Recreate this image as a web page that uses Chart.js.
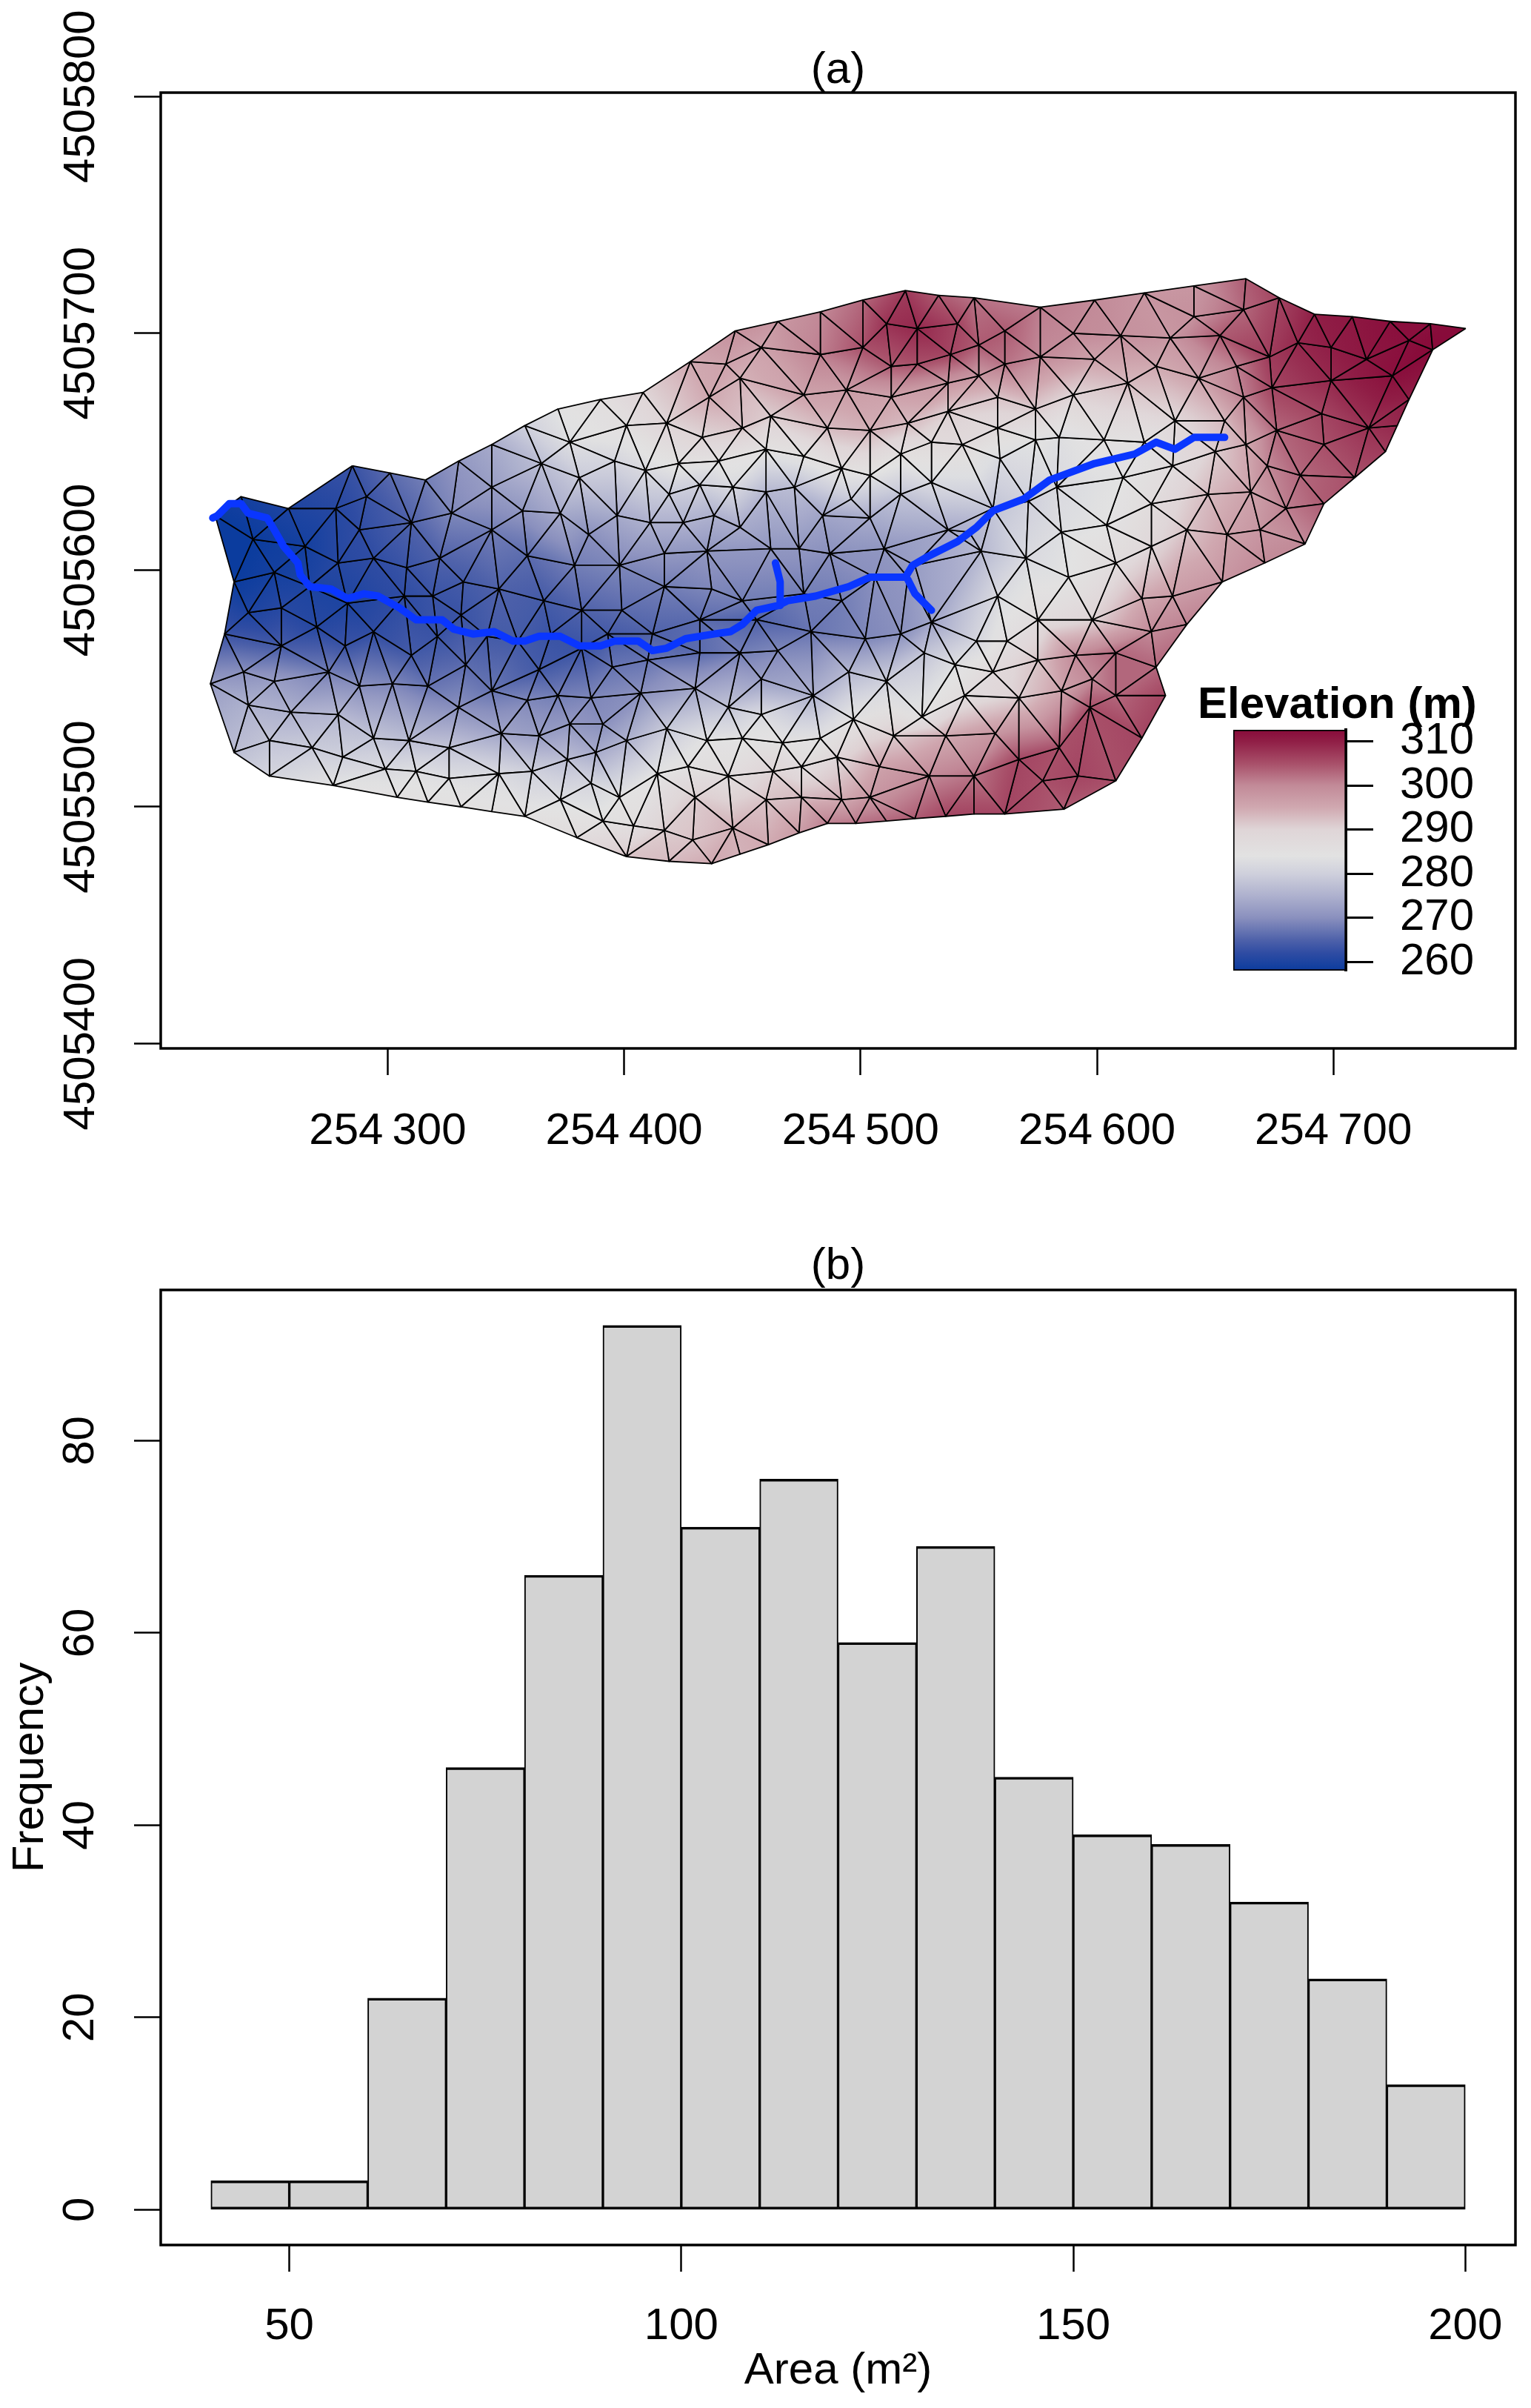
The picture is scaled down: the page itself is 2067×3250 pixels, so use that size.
<!DOCTYPE html>
<html>
<head>
<meta charset="utf-8">
<title>Catchment mesh</title>
<script src="https://cdn.jsdelivr.net/npm/chart.js@4/dist/chart.umd.js"></script>
<style>
  html, body { margin: 0; padding: 0; background: #fff; }
  #page { position: relative; width: 2067px; height: 3250px; overflow: hidden; }
  canvas { position: absolute; }
</style>
</head>
<body>
<div id="page">
  <canvas id="meshChart" width="2067" height="1600" style="left:0;top:0"></canvas>
  <canvas id="barChart" width="418" height="430" style="left:1600px;top:900px"></canvas>
  <canvas id="histChart" width="2067" height="1650" style="left:0;top:1600px"></canvas>
</div>
<script>
// mesh vertices, the first ringCount run round the catchment outline
const ringCount = 70;
const meshX = [
  254227,254238,254258,254285,254316,254330,254344,254358,254372,254390,
  254408,254428,254447,254465,254483,254501,254519,254533,254548,254576,
  254599,254620,254641,254663,254677,254692,254708,254724,254741,254756,
  254742,254732,254727,254722,254709,254696,254688,254671,254653,254638,
  254625,254629,254619,254608,254586,254561,254548,254536,254523,254511,
  254498,254486,254474,254461,254449,254437,254419,254401,254380,254358,
  254344,254331,254317,254304,254277,254250,254235,254225,254231,254235,
  254243,254252,254241,254255,254265,254278,254288,254279,254291,254301,
  254310,254294,254308,254322,254327,254344,254344,254357,254365,254377,
  254381,254373,254359,254347,254332,254319,254307,254331,254267,254283,
  254294,254270,254282,254255,254239,254321,254310,254333,254342,254366,
  254382,254369,254355,254382,254364,254344,254330,254317,254302,254288,
  254275,254252,254259,254241,254279,254294,254309,254326,254348,254364,
  254377,254372,254359,254386,254395,254391,254407,254401,254388,254376,
  254361,254347,254326,254312,254299,254281,254268,254250,254386,254373,
  254398,254414,254418,254430,254410,254432,254393,254399,254412,254391,
  254404,254417,254429,254430,254427,254444,254446,254435,254444,
  254379,254398,254417,254435,254385,254397,254411,254425,254438,254409,
  254396,254423,254440,254419,254432,254446,254401,254418,254433,254436,
  254443,254417,254437,254432,254450,254450,254450,
  254511,254524,254541,254501,254483,254458,254561,254550,254538,254524,
  254513,254590,254610,254631,254652,254641,254662,254576,254599,254561,
  254494,254476,254513,254537,254550,254558,254574,254590,254613,254625,
  254643,254659,254673,254685,254699,254714,254732,254725,254699,254674,
  254662,254462,254449,254486,254504,254520,254537,254558,254574,254584,
  254603,254620,254633,254654,254676,254695,254715,254696,254686,254672,
  254663,254650,254632,254460,254476,254492,254517,254530,254543,254559,
  254583,254611,254604,254623,254647,254665,254680,254669,254655,254638,
  254623,254608,254588,254570,254585,254571,254556,254546,254537,254530,
  254504,254460,254472,254484,254496,254504,254517,254449,254462,254474,
  254487,254510,254523,254551,254558,254575,254598,254619,254632,254623,
  254608,254591,254575,254562,254549,254540,254556,254527,254530,254517,
  254502,254479,254465,254456,254492,254476,254506,254520,254458,254449,
  254480,254495,254511,254526,254544,254567,254585,254598,254608,254597,
  254584,254567,254557,254536,254514,254497,254483,254467,254458,254475,
  254490,254463,254508,254529,254548,254577,254592,254475,254460,254492,
  254504
];
const meshY = [
  4505623,4505631,4505626,4505644,4505638,4505646,4505653,4505661,4505668,4505672,
  4505675,4505688,4505701,4505705,4505709,4505714,4505718,4505716,4505715,4505711,
  4505714,4505717,4505720,4505723,4505715,4505708,4505707,4505705,4505704,4505702,
  4505693,4505672,4505661,4505650,4505639,4505628,4505611,4505603,4505595,4505577,
  4505559,4505547,4505529,4505511,4505499,4505497,4505497,4505496,4505495,4505494,
  4505493,4505493,4505489,4505484,4505480,4505476,4505477,4505479,4505487,4505496,
  4505498,4505500,4505502,4505504,4505509,4505513,4505523,4505552,4505573,4505595,
  4505613,4505599,4505582,4505584,4505610,4505626,4505617,4505603,4505631,4505641,
  4505620,4505605,4505601,4505605,4505624,4505635,4505617,4505625,4505645,4505654,
  4505639,4505624,4505606,4505592,4505595,4505589,4505589,4505581,4505593,4505586,
  4505574,4505576,4505568,4505568,4505557,4505572,4505564,4505560,4505572,4505587,
  4505583,4505573,4505570,4505567,4505558,4505549,4505542,4505551,4505552,4505551,
  4505557,4505553,4505540,4505543,4505539,4505529,4505528,4505525,4505531,4505530,
  4505535,4505547,4505545,4505546,4505559,4505535,4505548,4505528,4505523,4505520,
  4505515,4505514,4505512,4505515,4505516,4505521,4505525,4505528,4505510,4505503,
  4505504,4505514,4505533,4505550,4505562,4505565,4505573,4505583,4505573,4505494,
  4505492,4505490,4505486,4505504,4505517,4505513,4505491,4505528,4505542,
  4505602,4505602,4505607,4505608,4505615,4505623,4505620,4505620,4505623,4505642,
  4505646,4505645,4505646,4505632,4505636,4505635,4505661,4505662,4505656,4505673,
  4505687,4505593,4505592,4505579,4505529,4505660,4505587,
  4505704,4505702,4505704,4505694,4505691,4505694,4505701,4505695,4505691,4505687,
  4505686,4505700,4505699,4505698,4505699,4505707,4505710,4505690,4505689,4505687,
  4505676,4505674,4505673,4505679,4505682,4505673,4505668,4505674,4505679,4505686,
  4505681,4505686,4505690,4505696,4505694,4505689,4505697,4505682,4505680,4505677,
  4505673,4505665,4505681,4505660,4505659,4505662,4505667,4505660,4505655,4505656,
  4505655,4505654,4505663,4505663,4505659,4505666,4505660,4505653,4505640,4505644,
  4505653,4505650,4505644,4505651,4505648,4505643,4505649,4505654,4505653,4505647,
  4505635,4505639,4505619,4505628,4505632,4505633,4505626,4505617,4505615,4505617,
  4505610,4505603,4505597,4505605,4505616,4505629,4505626,4505616,4505617,4505637,
  4505640,4505633,4505635,4505623,4505630,4505622,4505632,4505618,4505609,4505609,
  4505607,4505609,4505602,4505608,4505589,4505579,4505579,4505588,4505589,4505574,
  4505565,4505564,4505562,4505570,4505570,4505560,4505557,4505565,4505578,4505573,
  4505571,4505574,4505566,4505579,4505587,4505590,4505597,4505597,4505554,4505565,
  4505547,4505557,4505553,4505538,4505547,4505546,4505549,4505554,4505547,4505542,
  4505525,4505520,4505531,4505530,4505530,4505537,4505529,4505527,4505539,4505517,
  4505521,4505515,4505517,4505513,4505513,4505511,4505513,4505504,4505503,4505503,
  4505504
];
const meshZ = [
  258,259,260,263,268,271,274,280,284,286,
  290,295,299,298,300,303,307,304,302,301,
  300,298,298,304,306,310,311,312,312,313,
  313,310,309,307,305,304,300,300,298,301,
  303,306,306,305,304,306,306,306,304,303,
  302,301,297,295,294,295,293,292,287,285,
  285,285,285,285,284,281,277,272,263,258,
  258,259,260,261,259,261,262,261,263,266,
  265,262,263,265,269,272,268,271,277,283,
  279,274,266,265,264,263,262,263,260,260,
  262,261,263,264,270,263,264,266,264,264,
  265,263,264,263,264,267,270,267,269,270,
  268,272,275,275,276,278,277,278,273,272,
  271,268,269,269,267,270,270,275,274,277,
  280,282,283,283,282,280,279,278,281,283,
  284,284,279,273,267,266,264,266,265,285,
  286,291,292,291,285,287,294,284,278,
  268,269,271,271,270,274,275,275,275,282,
  281,285,285,279,280,282,286,290,290,295,
  296,268,269,266,284,292,268,
  308,309,306,305,301,296,304,304,306,305,
  304,300,299,298,304,299,303,300,296,302,
  297,296,296,298,298,292,291,290,293,295,
  296,301,307,309,310,311,312,312,309,306,
  301,291,294,293,294,293,291,288,284,283,
  285,285,289,293,303,306,308,305,303,300,
  295,291,287,285,285,286,286,288,288,282,
  282,284,284,287,293,296,301,298,296,292,
  289,287,284,282,283,280,278,275,274,282,
  284,276,277,273,279,274,278,274,271,271,
  270,271,272,276,282,287,290,295,297,300,
  303,300,292,286,281,283,288,278,273,270,
  269,267,269,265,268,268,270,271,272,268,
  275,276,280,285,287,291,296,300,303,305,
  305,306,298,295,291,285,284,285,282,287,
  289,290,296,300,302,305,306,293,292,295,
  298
];

// stream network
const riverX = [254226,254228,254233,254238,254241,254249,254252,254256,254262,254263,254267,254276,254283,254290,254296,254305,254312,254323,254328,254336,254345,254353,254358,254364,254373,254381,254390,254396,254406,254412,254418,254426,254438,254445,254450,254456,254465,254469,254481,254495,254504,254519,254522,254529,254541,254549,254556,254569,254580,254599,254616,254625,254633,254641,254654];
const riverY = [4505622,4505623,4505628,4505628,4505624,4505622,4505617,4505610,4505603,4505598,4505593,4505592,4505588,4505590,4505589,4505584,4505579,4505579,4505575,4505573,4505574,4505570,4505570,4505572,4505572,4505568,4505568,4505570,4505570,4505566,4505567,4505571,4505573,4505574,4505577,4505583,4505585,4505587,4505589,4505593,4505597,4505597,4505602,4505606,4505612,4505618,4505625,4505630,4505638,4505645,4505649,4505654,4505651,4505656,4505656];
const tribAX = [254464,254466,254466];
const tribAY = [4505603,4505595,4505585];
const tribBX = [254520,254523,254530];
const tribBY = [4505596,4505590,4505583];

const eastTicks = [254300,254400,254500,254600,254700];
const northTicks = [4505400,4505500,4505600,4505700,4505800];

// elevation colour ramp
const elevTicks = [260,270,280,290,300,310];
const rampZ = [258,262,265,270,275,280,284,290,295,300,305,310,312.6];
const rampColor = ['#0b3c9e','#2f4ca3','#4f62aa','#8a90be','#aeb1ce','#cfd0dc','#e2e2e2','#dfd5d7','#d0a8b0','#c28a98','#a84f69','#901e46','#880b3a'];

// histogram of panel (b)
const areaBins = [45,55,65,75,85,95,105,115,125,135,145,155,165,175,185,195];
const areaCounts = [3,3,22,46,66,92,71,76,59,69,45,39,38,32,24,13];
const areaTicks = [50,100,150,200];
const freqTicks = [0,20,40,60,80];

const FONT = '"Liberation Sans", Arial, sans-serif';
Chart.defaults.font.family = FONT;
Chart.defaults.color = '#000';
Chart.defaults.animation = false;

function hexToRgb(h) {
  return [parseInt(h.slice(1, 3), 16), parseInt(h.slice(3, 5), 16), parseInt(h.slice(5, 7), 16)];
}

function elevColor(z) {
  let i = 0;
  while (i < rampZ.length - 2 && z > rampZ[i + 1]) i++;
  const t = Math.max(0, Math.min(1, (z - rampZ[i]) / (rampZ[i + 1] - rampZ[i])));
  const a = hexToRgb(rampColor[i]), b = hexToRgb(rampColor[i + 1]);
  return 'rgb(' + a.map((v, k) => Math.round(v + (b[k] - v) * t)).join(',') + ')';
}

// Bowyer-Watson, the picture only gives the vertices
function triangulate(xs, ys) {
  const n = xs.length;
  const x0 = Math.min(...xs), y0 = Math.min(...ys);
  const px = xs.map(v => v - x0), py = ys.map(v => v - y0);
  px.push(-5000, 6000, 500);
  py.push(-5000, -5000, 8000);
  const inCircle = (t, i) => {
    const ax = px[t[0]] - px[i], ay = py[t[0]] - py[i];
    const bx = px[t[1]] - px[i], by = py[t[1]] - py[i];
    const cx = px[t[2]] - px[i], cy = py[t[2]] - py[i];
    const det = (ax * ax + ay * ay) * (bx * cy - cx * by)
      - (bx * bx + by * by) * (ax * cy - cx * ay)
      + (cx * cx + cy * cy) * (ax * by - bx * ay);
    return det > 0;
  };
  let tris = [[n, n + 1, n + 2]];
  for (let i = 0; i < n; i++) {
    const bad = [], keep = [];
    tris.forEach(t => (inCircle(t, i) ? bad : keep).push(t));
    const edges = {};
    bad.forEach(t => {
      [[t[0], t[1]], [t[1], t[2]], [t[2], t[0]]].forEach(e => {
        const rev = e[1] + '_' + e[0];
        if (edges[rev]) delete edges[rev];
        else edges[e[0] + '_' + e[1]] = e;
      });
    });
    Object.values(edges).forEach(e => keep.push([e[0], e[1], i]));
    tris = keep;
  }
  return tris.filter(t => t.every(v => v < n));
}

function insideRing(x, y) {
  let c = false;
  for (let i = 0, j = ringCount - 1; i < ringCount; j = i++) {
    if ((meshY[i] > y) !== (meshY[j] > y) &&
        x < (meshX[j] - meshX[i]) * (y - meshY[i]) / (meshY[j] - meshY[i]) + meshX[i]) c = !c;
  }
  return c;
}

const triangles = triangulate(meshX, meshY).filter(t => {
  const cx = (meshX[t[0]] + meshX[t[1]] + meshX[t[2]]) / 3;
  const cy = (meshY[t[0]] + meshY[t[1]] + meshY[t[2]]) / 3;
  return insideRing(cx, cy);
});

// colour runs along the slope of the triangle, like the per-vertex shading of the original
function triangleFill(c, t) {
  const s = c.chart.scales;
  const flat = elevColor((meshZ[t[0]] + meshZ[t[1]] + meshZ[t[2]]) / 3);
  if (!s.x || !c.chart.chartArea) return flat;
  const p = t.map(i => [s.x.getPixelForValue(meshX[i]), s.y.getPixelForValue(meshY[i]), meshZ[i]]);
  const ux = p[1][0] - p[0][0], uy = p[1][1] - p[0][1], uz = p[1][2] - p[0][2];
  const vx = p[2][0] - p[0][0], vy = p[2][1] - p[0][1], vz = p[2][2] - p[0][2];
  const det = ux * vy - vx * uy;
  if (!det) return flat;
  const a = (uz * vy - vz * uy) / det, b = (ux * vz - vx * uz) / det;
  const len = a * a + b * b;
  if (!len) return flat;
  const low = p.reduce((m, q) => (q[2] < m[2] ? q : m));
  const zHigh = Math.max(p[0][2], p[1][2], p[2][2]);
  const d = (zHigh - low[2]) / len;
  const g = c.chart.ctx.createLinearGradient(low[0], low[1], low[0] + a * d, low[1] + b * d);
  [0, 0.25, 0.5, 0.75, 1].forEach(f => g.addColorStop(f, elevColor(low[2] + (zHigh - low[2]) * f)));
  return g;
}

const meshSets = triangles.map(t => ({
  data: [t[0], t[1], t[2], t[0]].map(i => ({ x: meshX[i], y: meshY[i] })),
  showLine: true,
  fill: 'shape',
  backgroundColor: c => triangleFill(c, t),
  borderColor: '#000',
  borderWidth: 1.8,
  borderJoinStyle: 'round',
  pointRadius: 0,
  tension: 0
}));

function riverSet(xs, ys) {
  return {
    data: xs.map((x, i) => ({ x: x, y: ys[i] })),
    showLine: true,
    fill: false,
    borderColor: '#0a36ff',
    borderWidth: 10,
    borderJoinStyle: 'round',
    borderCapStyle: 'round',
    pointRadius: 0,
    tension: 0
  };
}

// R style box round the plot region
const framePlugin = {
  id: 'frame',
  afterDraw(chart) {
    const a = chart.chartArea, ctx = chart.ctx;
    ctx.save();
    ctx.strokeStyle = '#000';
    ctx.lineWidth = 3.5;
    ctx.strokeRect(a.left, a.top, a.right - a.left, a.bottom - a.top);
    ctx.restore();
  }
};

function axisGrid() {
  return { offset: false, drawOnChartArea: false, drawTicks: true, tickLength: 36, tickWidth: 2.5, tickColor: '#000' };
}

function titleOpts(text, top, bottom) {
  return {
    display: true,
    text: text,
    fullSize: false,
    color: '#000',
    font: { size: 60, weight: 'normal', lineHeight: 1 },
    padding: { top: top, bottom: bottom }
  };
}

// fixed box sizes, and no extra room for labels hanging over the ends of the axis
function fixX(h) {
  return s => { s.height = h; s.paddingLeft = 0; s.paddingRight = 0; };
}
function fixY(w) {
  return s => { s.width = w; s.paddingTop = 0; s.paddingBottom = 0; };
}

new Chart(document.getElementById('meshChart'), {
  type: 'scatter',
  // first dataset ends up on top, so the stream goes before the mesh
  data: { datasets: [riverSet(riverX, riverY), riverSet(tribAX, tribAY), riverSet(tribBX, tribBY)].concat(meshSets) },
  plugins: [framePlugin],
  options: {
    responsive: false,
    devicePixelRatio: 1,
    events: [],
    layout: { padding: { right: 21 } },
    plugins: { legend: { display: false }, tooltip: { enabled: false }, title: titleOpts('(a)', 65, 0) },
    scales: {
      x: {
        type: 'linear', min: 254204, max: 254777,
        afterBuildTicks: s => { s.ticks = eastTicks.map(v => ({ value: v })); },
        afterFit: fixX(185),
        grid: axisGrid(),
        border: { display: false },
        ticks: {
          autoSkip: false, minRotation: 0, maxRotation: 0, padding: 46,
          font: { size: 60, lineHeight: 1 },
          callback: v => String(v).slice(0, 3) + '\u2009' + String(v).slice(3)
        }
      },
      y: {
        type: 'linear', min: 4505398, max: 4505801.6,
        afterBuildTicks: s => { s.ticks = northTicks.map(v => ({ value: v })); },
        afterFit: fixY(217),
        grid: axisGrid(),
        border: { display: false },
        ticks: {
          autoSkip: false, minRotation: 90, maxRotation: 90, crossAlign: 'center', padding: -46,
          font: { size: 60, lineHeight: 1 },
          callback: v => String(v)
        }
      }
    }
  }
});

new Chart(document.getElementById('barChart'), {
  type: 'bar',
  data: {
    labels: ['Elevation (m)'],
    datasets: [{
      xAxisID: 'x',
      yAxisID: 'y',
      data: [[258, 312.6]],
      barPercentage: 1,
      categoryPercentage: 1,
      borderColor: '#000',
      borderWidth: 2,
      borderSkipped: false,
      backgroundColor: c => {
        const y = c.chart.scales.y;
        if (!y || !c.chart.chartArea) return rampColor[0];
        const g = c.chart.ctx.createLinearGradient(0, y.getPixelForValue(258), 0, y.getPixelForValue(312.6));
        rampZ.forEach((z, i) => g.addColorStop(Math.min(1, (z - 258) / 54.6), rampColor[i]));
        return g;
      }
    }]
  },
  options: {
    responsive: false,
    devicePixelRatio: 1,
    events: [],
    layout: { padding: { left: 17, bottom: 20 } },
    plugins: {
      legend: { display: false },
      tooltip: { enabled: false },
      title: {
        display: true,
        text: 'Elevation (m)',
        align: 'start',
        color: '#000',
        font: { size: 60, weight: 'bold', lineHeight: 1 },
        padding: { top: 22, bottom: 3 }
      }
    },
    scales: {
      x: { display: false },
      // empty axis, only there to push the bar in under the title
      spacer: {
        axis: 'y', position: 'left',
        afterFit: fixY(48),
        grid: { display: false },
        border: { display: false },
        ticks: { display: false }
      },
      y: {
        position: 'right', min: 258, max: 312.6,
        afterBuildTicks: s => { s.ticks = elevTicks.map(v => ({ value: v })); },
        afterFit: fixY(201),
        grid: { drawOnChartArea: false, drawTicks: true, tickLength: 37, tickWidth: 3, tickColor: '#000' },
        border: { display: true, color: '#000', width: 4 },
        ticks: { autoSkip: false, padding: 36, font: { size: 60, lineHeight: 1 } }
      }
    }
  }
});

new Chart(document.getElementById('histChart'), {
  type: 'bar',
  data: {
    datasets: [{
      data: areaBins.map((x, i) => ({ x: x, y: areaCounts[i] })),
      barPercentage: 1,
      categoryPercentage: 1,
      backgroundColor: '#d3d3d3',
      borderColor: '#000',
      borderWidth: { top: 3.5, bottom: 3.5, left: 2, right: 2 },
      borderSkipped: false
    }]
  },
  plugins: [framePlugin],
  options: {
    responsive: false,
    devicePixelRatio: 1,
    events: [],
    layout: { padding: { right: 21 } },
    plugins: { legend: { display: false }, tooltip: { enabled: false }, title: titleOpts('(b)', 79, 2) },
    scales: {
      x: {
        type: 'linear', min: 33.6, max: 206.4, offset: false,
        afterBuildTicks: s => { s.ticks = areaTicks.map(v => ({ value: v })); },
        afterFit: fixX(220),
        grid: axisGrid(),
        border: { display: false },
        title: { display: true, text: 'Area (m\u00b2)', font: { size: 60, lineHeight: 1 }, padding: { top: 8, bottom: 20 } },
        ticks: { autoSkip: false, minRotation: 0, maxRotation: 0, padding: 44, font: { size: 60, lineHeight: 1 } }
      },
      y: {
        type: 'linear', min: -3.68, max: 95.68,
        afterBuildTicks: s => { s.ticks = freqTicks.map(v => ({ value: v })); },
        afterFit: fixY(217),
        grid: axisGrid(),
        border: { display: false },
        title: { display: true, text: 'Frequency', font: { size: 60, lineHeight: 1 }, padding: { top: 11, bottom: 0 } },
        ticks: { autoSkip: false, minRotation: 90, maxRotation: 90, crossAlign: 'center', padding: 38, font: { size: 60, lineHeight: 1 } }
      }
    }
  }
});
</script>
</body>
</html>
